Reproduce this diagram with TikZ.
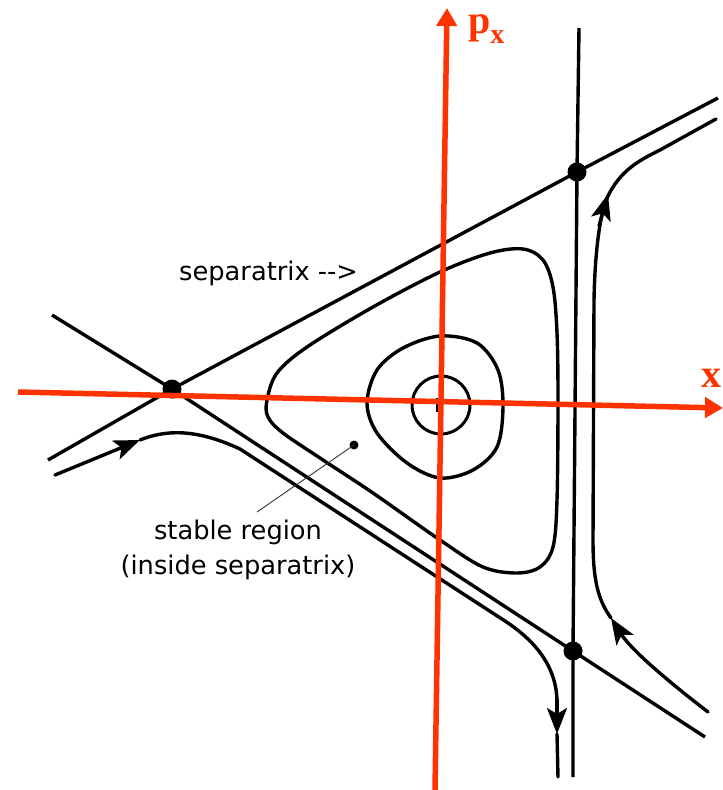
\documentclass[tikz,border=0pt]{standalone}
\usepackage{fontspec}
\setmainfont{DejaVu Sans}
\newfontfamily\axisfont{Liberation Serif}
\usetikzlibrary{arrows.meta}
\begin{document}
\begin{tikzpicture}[x=1pt, y=-1pt,
	axis/.style={axisred, line width=5.5pt, -{Triangle[length=18pt, width=20pt]}},
	sep/.style={black, line width=3.4pt},
	traj/.style={black, line width=3.4pt, line cap=round},
	flow/.style={traj, -{Stealth[length=26pt, width=20pt, inset=6pt]}},
	orbit/.style={black, line width=3.4pt},
	saddle/.style={black},
	lbl/.style={inner sep=0pt, font=\fontsize{25.7}{35}\selectfont}]
	% Define custom colors
	\definecolor{axisred}{RGB}{255, 51, 0}
	\useasboundingbox (0,0) rectangle (723,790);
	% fixed points
	\coordinate (L) at (172,389);
	\coordinate (T) at (577,172);
	\coordinate (B) at (573,651);
	\coordinate (O) at (441,405);
	% separatrices
	\draw[sep] (48,460) -- (L) -- (T) -- (718,98);
	\draw[sep] (52,315) -- (L) -- (B) -- (705,737);
	\draw[sep] (579,28) -- (T) -- (B) -- (573,777);
	% orbits inside
	\draw[orbit] plot[smooth cycle, tension=0.55] coordinates {(268,417) (267,400) (277,373) (307,347) (373,307) (440,272) (490,253) (523,249) (543,260) (553,287) (557,333) (558,400) (557,500) (553,547) (540,567) (517,573) (483,567) (440,540) (373,493) (323,460) (283,433)};
	\draw[orbit] plot[smooth cycle, tension=0.55] coordinates {(367,403) (377,370) (403,348) (440,336) (477,343) (498,370) (503,407) (497,447) (473,470) (440,478) (407,463) (377,433)};
	\draw[orbit, line width=3pt] (O) circle[radius=29pt];
	\draw[black, line width=1.5pt] (437,398) -- (437,412);
	% trajectories outside
	\draw[flow] (55,475) -- (140,440);
	\draw[traj] (140,440) .. controls (165,430) and (195,428) .. (240,449) -- (505,621) .. controls (540,644) and (556,670) .. (557,700);
	\draw[flow] (557,700) -- (557,734);
	\draw[traj] (557,734) -- (558,777);
	\draw[flow] (708,712) .. controls (660,675) and (630,648) .. (611,618);
	\draw[traj] (611,618) .. controls (598,600) and (593,580) .. (593,540) -- (594,300) .. controls (595,250) and (600,215) .. (607,198);
	\draw[flow] (599,226) -- (608,194);
	\draw[traj] (607,198) .. controls (620,170) and (640,160) .. (660,150) -- (716,119);
	% saddle points
	\foreach \p in {L,T,B}
		\fill[saddle] (\p) circle[radius=9.5pt];
	% axes
	\draw[axis] (18,392) -- (723,408);
	\draw[axis] (435,790) -- (447,8);
	\node[text=axisred, inner sep=0pt, anchor=base west, font=\axisfont\bfseries\fontsize{40}{44}\selectfont] (pxlabel) at (468,33) {p\raisebox{-10pt}{\fontsize{28}{30}\selectfont x}};
	\node[text=axisred, inner sep=0pt, anchor=base east, font=\axisfont\bfseries\fontsize{40}{44}\selectfont] (xlabel) at (722,387) {x};
	% labels
	\node[lbl, anchor=base west] (seplabel) at (179,280) {separatrix -{}->};
	\node[lbl, anchor=north, align=center] (stablelabel) at (238,520) {stable region\\(inside separatrix)};
	\coordinate (stabledot) at (354,445);
	\coordinate (pointerend) at (257,512);
	\fill (stabledot) circle[radius=4.5pt];
	\draw[line width=0.9pt, black!80] (stabledot) -- (pointerend);
\end{tikzpicture}
\end{document}
